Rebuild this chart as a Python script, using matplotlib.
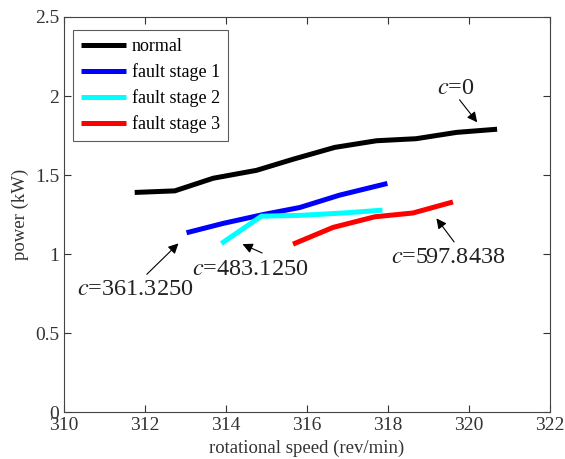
import matplotlib
matplotlib.use('Agg')
import matplotlib.pyplot as plt
from matplotlib.ticker import FormatStrFormatter

plt.rcParams['font.family'] = ['Liberation Serif', 'DejaVu Serif']
plt.rcParams['mathtext.fontset'] = 'stix'

# data
speed_normal = [311.75, 312.74, 313.69, 314.76, 315.66, 316.69, 317.72, 318.70, 319.70, 320.70]
power_normal = [1.39, 1.40, 1.48, 1.53, 1.60, 1.675, 1.717, 1.73, 1.77, 1.79]
speed_stage1 = [313.03, 313.93, 314.92, 315.83, 316.81, 317.99]
power_stage1 = [1.135, 1.194, 1.25, 1.295, 1.373, 1.447]
speed_stage2 = [313.89, 314.88, 315.83, 316.90, 317.87]
power_stage2 = [1.067, 1.24, 1.245, 1.26, 1.278]
speed_stage3 = [315.66, 316.65, 317.68, 318.62, 319.61]
power_stage3 = [1.063, 1.169, 1.236, 1.26, 1.33]

labels = ['normal', 'fault stage 1', 'fault stage 2', 'fault stage 3']
colors = ['k', '#0000ff', '#00ffff', '#ff0000']

c_labels = ['$c$=0', '$c$=361.3250', '$c$=483.1250', '$c$=597.8438']
c_text_pos = [(319.69, 2.05), (310.33, 0.775), (313.16, 0.90), (318.07, 0.98)]
c_text_ha = ['center', 'left', 'left', 'left']
c_arrow_tail = [(319.73, 1.99), (312.0, 0.86), (314.96, 1.0), (319.68, 1.063)]
c_arrow_head = [(320.25, 1.82), (312.88, 1.08), (314.35, 1.07), (319.16, 1.24)]

fig = plt.figure(figsize=(5.65, 4.59), dpi=100)
ax = fig.add_axes([0.113, 0.102, 0.86, 0.861])

series = [(speed_normal, power_normal), (speed_stage1, power_stage1),
          (speed_stage2, power_stage2), (speed_stage3, power_stage3)]
for (xs, ys), lab, col in zip(series, labels, colors):
    ax.plot(xs, ys, color=col, linewidth=3.6, label=lab, solid_capstyle='butt')

for lab, pos, ha, tail, head in zip(c_labels, c_text_pos, c_text_ha, c_arrow_tail, c_arrow_head):
    ax.text(pos[0], pos[1], lab, ha=ha, va='center', fontsize=17.5, color='#222222')
    ax.annotate('', xy=head, xytext=tail,
                arrowprops=dict(arrowstyle='-|>', color='k', lw=0.8, mutation_scale=15))

ax.set_xlim(310, 322)
ax.set_ylim(0, 2.5)
ax.set_xticks(range(310, 323, 2))
ax.set_yticks([0, 0.5, 1, 1.5, 2, 2.5])
ax.yaxis.set_major_formatter(FormatStrFormatter('%g'))
ax.tick_params(direction='in', top=True, right=True, labelsize=14, colors='#333333', length=5)
for sp in ax.spines.values():
    sp.set_color('#444444')
ax.set_xlabel('rotational speed (rev/min)', fontsize=13.5, color='#333333', labelpad=4)
ax.set_ylabel('power (kW)', fontsize=13.5, color='#333333', labelpad=4)

leg = ax.legend(loc='upper left', bbox_to_anchor=(0.0185, 0.967), borderaxespad=0,
                fontsize=13, frameon=True, fancybox=False,
                handlelength=2.5, handletextpad=0.3, borderpad=0.45, labelspacing=0.45)
leg.get_frame().set_edgecolor('#333333')
leg.get_frame().set_linewidth(0.8)

fig.savefig('out.png', dpi=100)
